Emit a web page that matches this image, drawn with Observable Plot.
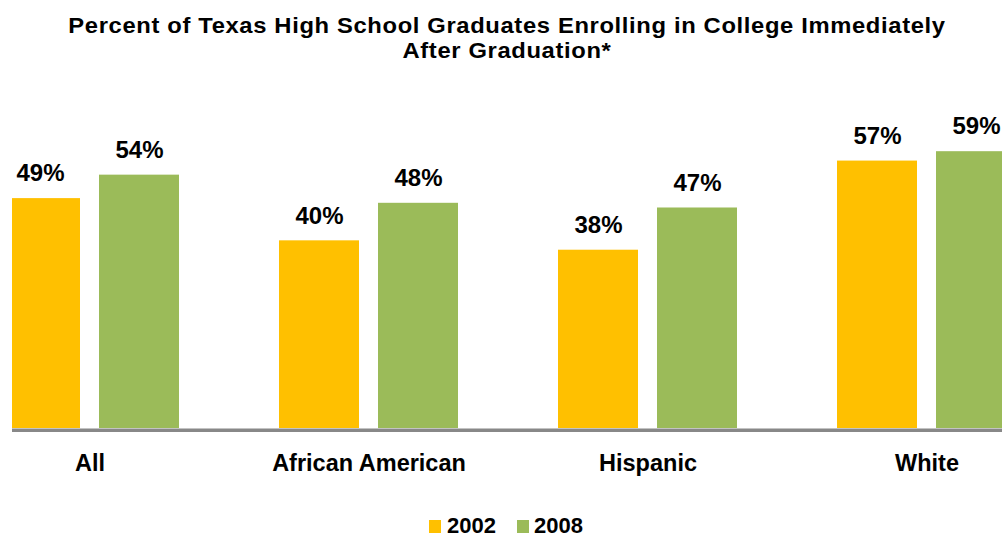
<!DOCTYPE html>
<html>
<head>
<meta charset="utf-8">
<script src="https://cdn.jsdelivr.net/npm/d3@7"></script>
<script src="https://cdn.jsdelivr.net/npm/@observablehq/plot@0.6"></script>
<style>
  html, body { margin: 0; padding: 0; background: #fff; overflow: hidden; width: 1002px; height: 538px; }
  body { position: relative; font-family: "Liberation Sans", Arial, sans-serif; font-weight: 700; color: #000; }
  #title { position: absolute; top: 13px; left: 0; width: 1014px; text-align: center; font-size: 22px; line-height: 25px; font-weight: 700; letter-spacing: 0.6px; transform: scaleX(1.08); transform-origin: 507px 0; }
  #chart { position: absolute; top: 62px; left: 12px; width: 990px; height: 440px; overflow: hidden; }
  #legend { position: absolute; top: 514px; left: 429px; display: flex; align-items: center; font-size: 22px; font-weight: 700; line-height: 24px; }
  .sw { display: inline-block; width: 12px; height: 13px; }
</style>
</head>
<body>
<div id="title">Percent of Texas High School Graduates Enrolling in College Immediately<br>After Graduation*</div>
<div id="chart"></div>
<div id="legend"></div>
<script>
const categories = ["All", "African American", "Hispanic", "White"];
const years = ["2002", "2008"];
const values2002 = [49, 40, 38, 57];
const values2008 = [54, 48, 47, 59];
const colors = ["#FFC000", "#9BBB59"];

const data = [];
categories.forEach((c, i) => {
  data.push({category: c, year: years[0], value: values2002[i]});
  data.push({category: c, year: years[1], value: values2008[i]});
});

const font = "'Liberation Sans', Arial, sans-serif";

const plot = Plot.plot({
  width: 1070,
  height: 430,
  marginTop: 0,
  marginBottom: 64,
  marginLeft: 0,
  marginRight: 0,
  style: {maxWidth: "none", marginLeft: "-12px", fontFamily: font, overflow: "visible", background: "transparent"},
  fx: {domain: categories, range: [-51.25, 1066.75], padding: 0, axis: null},
  x: {domain: years, paddingInner: 0.19, paddingOuter: 0.4925, axis: null},
  y: {domain: [0, 60], range: [366, 84.5], axis: null},
  color: {domain: years, range: colors},
  marks: [
    Plot.barY(data, {fx: "category", x: "year", y: "value", fill: "year"}),
    Plot.ruleY([0], {stroke: "#888888", strokeWidth: 3.5, dy: 1.75}),
    Plot.text(data, {fx: "category", x: "year", y: "value", text: d => d.value + "%", dy: -25, lineAnchor: "middle", fontSize: 24, fontWeight: 700, fill: "#000"}),
    Plot.text(categories, {fx: d => d, text: d => d, frameAnchor: "bottom", dy: 35, lineAnchor: "middle", fontSize: 23.5, fontWeight: 700, fill: "#000"})
  ]
});
document.getElementById("chart").appendChild(plot);

const legend = document.getElementById("legend");
years.forEach((y, i) => {
  const sw = document.createElement("span");
  sw.className = "sw";
  sw.style.background = colors[i];
  sw.style.marginRight = i === 0 ? "6px" : "5px";
  const t = document.createElement("span");
  t.textContent = y;
  t.style.marginRight = i === 0 ? "21px" : "0";
  legend.appendChild(sw);
  legend.appendChild(t);
});
</script>
</body>
</html>
